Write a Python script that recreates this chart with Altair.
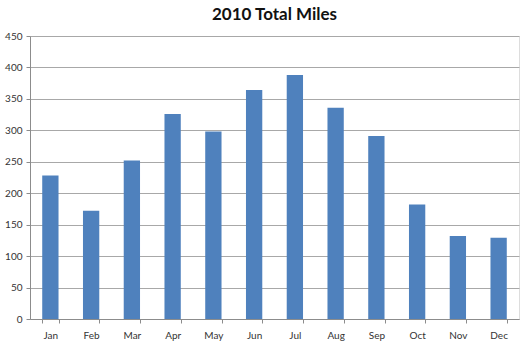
import altair as alt
import pandas as pd

months = ["Jan", "Feb", "Mar", "Apr", "May", "Jun", "Jul", "Aug", "Sep", "Oct", "Nov", "Dec"]
miles = [228, 172, 252, 326, 298, 364, 388, 336, 291, 182, 132, 129]

df = pd.DataFrame({"Month": months, "Miles": miles})

chart = alt.Chart(df).mark_bar(color="#4F81BD").encode(
    x=alt.X("Month:N", sort=months, title=None,
            scale=alt.Scale(paddingInner=0.6, paddingOuter=0.3),
            axis=alt.Axis(labelAngle=0, tickBand="extent", labelFontSize=10,
                          labelPadding=7, tickSize=4, domainColor="#8c8c8c",
                          tickColor="#8c8c8c", labelColor="#333333",
                          labelFont="Lato", grid=False)),
    y=alt.Y("Miles:Q", title=None,
            scale=alt.Scale(domain=[0, 450], nice=False),
            axis=alt.Axis(values=list(range(0, 451, 50)), labelFontSize=10,
                          labelPadding=4, tickSize=4, domainColor="#8c8c8c",
                          tickColor="#8c8c8c", labelColor="#333333",
                          labelFont="Lato", gridColor="#a8a8a8", gridWidth=1)),
).properties(
    width=489,
    height=283,
    title=alt.TitleParams("2010 Total Miles", font="Lato", fontSize=17,
                          fontWeight="bold", color="#111111", offset=7,
                          anchor="middle"),
    autosize=alt.AutoSizeParams(type="none"),
    padding={"left": 30, "top": 36, "right": 8, "bottom": 34},
).configure_view(stroke=None).configure(background="white")

chart.save("out.html", embed_options={"renderer": "svg", "actions": False})
